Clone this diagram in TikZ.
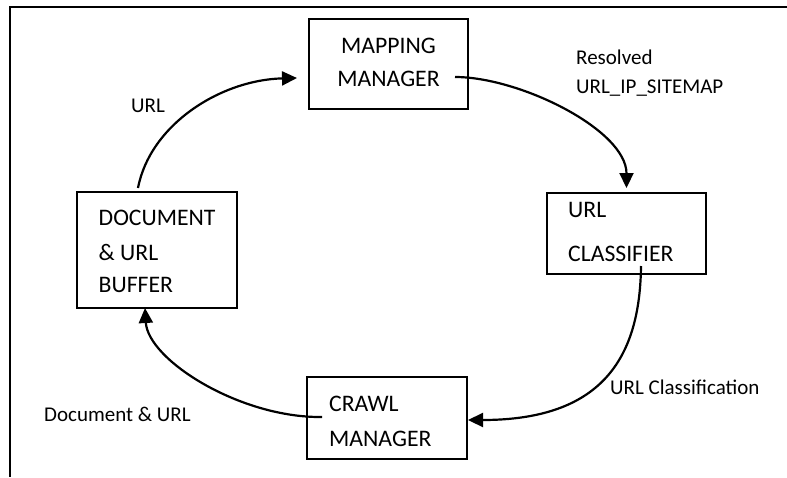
\documentclass[tikz,border=0pt]{standalone}
\usepackage{fontspec}
\setmainfont{Carlito}
\usetikzlibrary{arrows.meta}
\begin{document}
\begin{tikzpicture}[x=1pt,y=-1pt,
  box/.style={draw,line width=1.3pt,inner sep=0pt,outer sep=0pt},
  boxtext/.style={inner sep=0pt,anchor=base west,font=\fontsize{23.7}{28}\selectfont},
  boxtextc/.style={inner sep=0pt,anchor=base,font=\fontsize{23.7}{28}\selectfont},
  flowlabel/.style={inner sep=0pt,anchor=base west,font=\fontsize{21}{24}\selectfont},
  flow/.style={line width=2.2pt,-{Triangle[length=15pt,width=14pt]}},
  frameline/.style={line width=2pt}]
\useasboundingbox (0,0) rectangle (787,477);

% page frame (top and left edges only)
\draw[frameline] (787,7) -- (10,7) -- (10,477);

% component boxes
\node[box,minimum width=159pt,minimum height=90pt] (map) at (388.5,64) {};
\node[box,minimum width=160pt,minimum height=116pt] (doc) at (157,250) {};
\node[box,minimum width=159pt,minimum height=81pt] (cls) at (626.5,233.5) {};
\node[box,minimum width=160pt,minimum height=82pt] (crawl) at (387,418) {};

% box captions
\node[boxtextc] (map1) at (388.5,53.3) {MAPPING};
\node[boxtextc] (map2) at (388.5,86) {MANAGER};
\node[boxtext] (doc1) at (98.5,225.5) {DOCUMENT};
\node[boxtext] (doc2) at (98.5,260) {\&\ URL};
\node[boxtext] (doc3) at (98.5,292.7) {BUFFER};
\node[boxtext] (cls1) at (568,217) {URL};
\node[boxtext] (cls2) at (568,261) {CLASSIFIER};
\node[boxtext] (crawl1) at (329,411) {CRAWL};
\node[boxtext] (crawl2) at (329,446) {MANAGER};

% flow labels
\node[flowlabel] (lurl) at (131,112) {URL};
\node[flowlabel] (lres1) at (576,64) {Resolved};
\node[flowlabel] (lres2) at (576,93) {URL\_IP\_SITEMAP};
\node[flowlabel] (lcls) at (610,394) {URL Classification};
\node[flowlabel] (ldoc) at (44,421) {Document \& URL};

% flows around the cycle
\draw[flow] ([xshift=-19pt,yshift=4pt]doc.north)
  .. controls +(12,-63) and +(-77,2) .. ([xshift=-12pt,yshift=-14pt]map.west);
\draw[flow] ([xshift=-13pt,yshift=-13pt]map.east)
  .. controls +(65,0) and +(0,-58) .. ([yshift=5pt]cls.north);
\draw[flow] ([xshift=14.5pt,yshift=8pt]cls.south)
  .. controls +(-1,94) and +(132,0) .. ([xshift=1pt,yshift=-2pt]crawl.east);
\draw[flow] ([xshift=15pt,yshift=1pt]crawl.west)
  .. controls +(-82,1) and +(3,52) .. ([xshift=-12pt]doc.south);
\end{tikzpicture}
\end{document}
